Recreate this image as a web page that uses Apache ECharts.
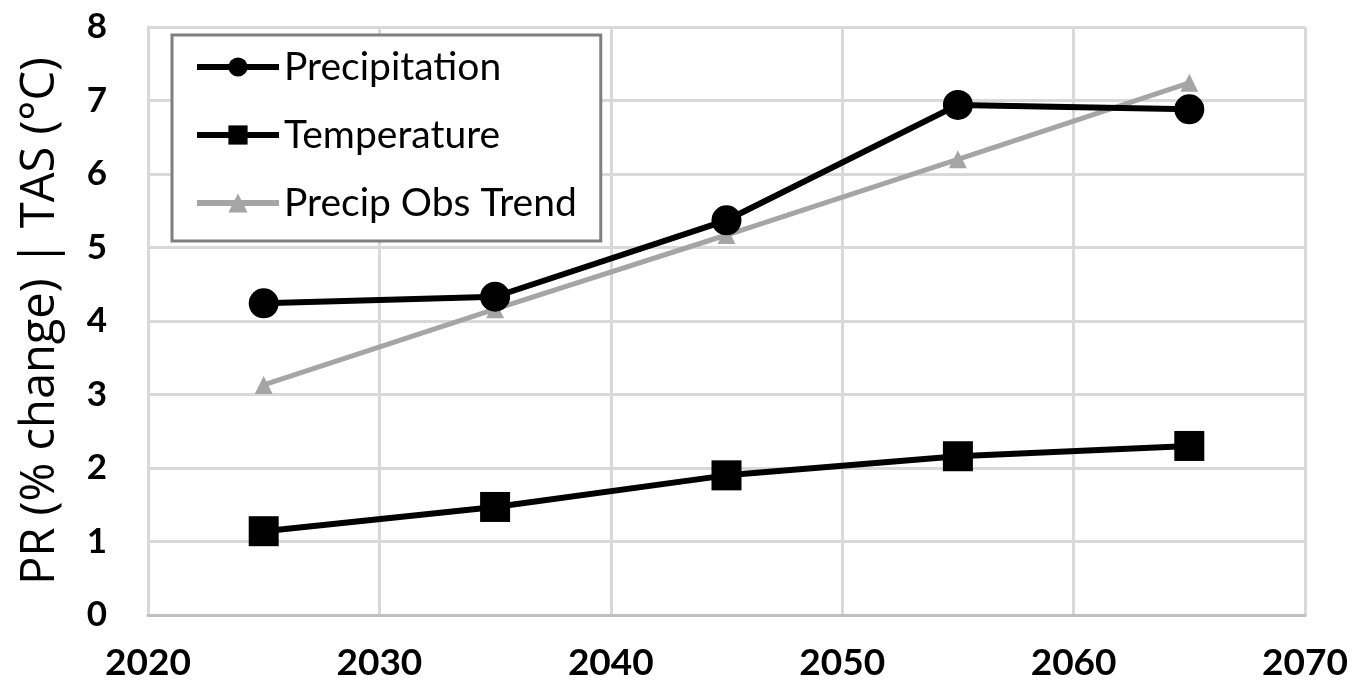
<!DOCTYPE html>
<html>
<head>
<meta charset="utf-8">
<script src="https://cdn.jsdelivr.net/npm/echarts@6/dist/echarts.min.js"></script>
<style>html,body{margin:0;padding:0;background:#fff}#c{width:1360px;height:692px}</style>
</head>
<body>
<div id="c"></div>
<script>
const years = [2025, 2035, 2045, 2055, 2065];
const precipitation = [4.24, 4.33, 5.37, 6.94, 6.88];
const temperature = [1.14, 1.47, 1.90, 2.16, 2.30];
const precipObsTrend = [3.13, 4.16, 5.17, 6.20, 7.24];
const seriesNames = ['Precipitation', 'Temperature', 'Precip Obs Trend'];
const yAxisTitle = 'PR (% change) | TAS (°C)';

const FONT = 'Lato, "Open Sans", sans-serif';
const chart = echarts.init(document.getElementById('c'), null, {renderer: 'canvas'});
const pair = arr => years.map((y, i) => [y, arr[i]]);
chart.setOption({
  animation: false,
  backgroundColor: '#fff',
  grid: {left: 148, right: 55, top: 27, bottom: 77, containLabel: false, outerBoundsMode: 'none'},
  legend: {
    show: true,
    orient: 'vertical',
    left: 172, top: 35,
    padding: [10, 24, 16, 22],
    itemGap: 24,
    itemWidth: 82, itemHeight: 24,
    borderColor: '#7f7f7f', borderWidth: 3,
    backgroundColor: '#fff',
    lineStyle: {width: 6},
    textStyle: {fontFamily: FONT, fontSize: 39, lineHeight: 44, color: '#000', padding: [0, 0, 0, 0]},
    data: seriesNames
  },
  xAxis: {
    type: 'value', min: 2020, max: 2070, interval: 10,
    axisLine: {show: true, lineStyle: {color: '#bfbfbf', width: 3}},
    axisTick: {show: false},
    splitLine: {show: true, lineStyle: {color: '#d9d9d9', width: 3}},
    axisLabel: {fontFamily: FONT, fontSize: 37, color: '#000', margin: 30, fontWeight: 'bold',
      formatter: v => String(v)}
  },
  yAxis: {
    type: 'value', min: 0, max: 8, interval: 1,
    name: yAxisTitle, nameLocation: 'middle', nameGap: 84,
    nameTextStyle: {fontFamily: '"Open Sans", sans-serif', fontSize: 47, color: '#000'},
    axisLine: {show: true, lineStyle: {color: '#d9d9d9', width: 3}},
    axisTick: {show: false},
    splitLine: {show: true, lineStyle: {color: '#d9d9d9', width: 3}},
    axisLabel: {fontFamily: FONT, fontSize: 35, color: '#000', margin: 41, fontWeight: 'bold'}
  },
  series: [
    {name: seriesNames[0], type: 'line', data: pair(precipitation), symbol: 'circle', symbolSize: 30,
     lineStyle: {color: '#000', width: 6}, itemStyle: {color: '#000'}, z: 3},
    {name: seriesNames[1], type: 'line', data: pair(temperature), symbol: 'rect', symbolSize: 30,
     lineStyle: {color: '#000', width: 6}, itemStyle: {color: '#000'}, z: 3},
    {name: seriesNames[2], type: 'line', data: pair(precipObsTrend), symbol: 'triangle', symbolSize: 18,
     lineStyle: {color: '#a5a5a5', width: 5}, itemStyle: {color: '#a5a5a5'}, z: 2}
  ]
});
</script>
</body>
</html>
